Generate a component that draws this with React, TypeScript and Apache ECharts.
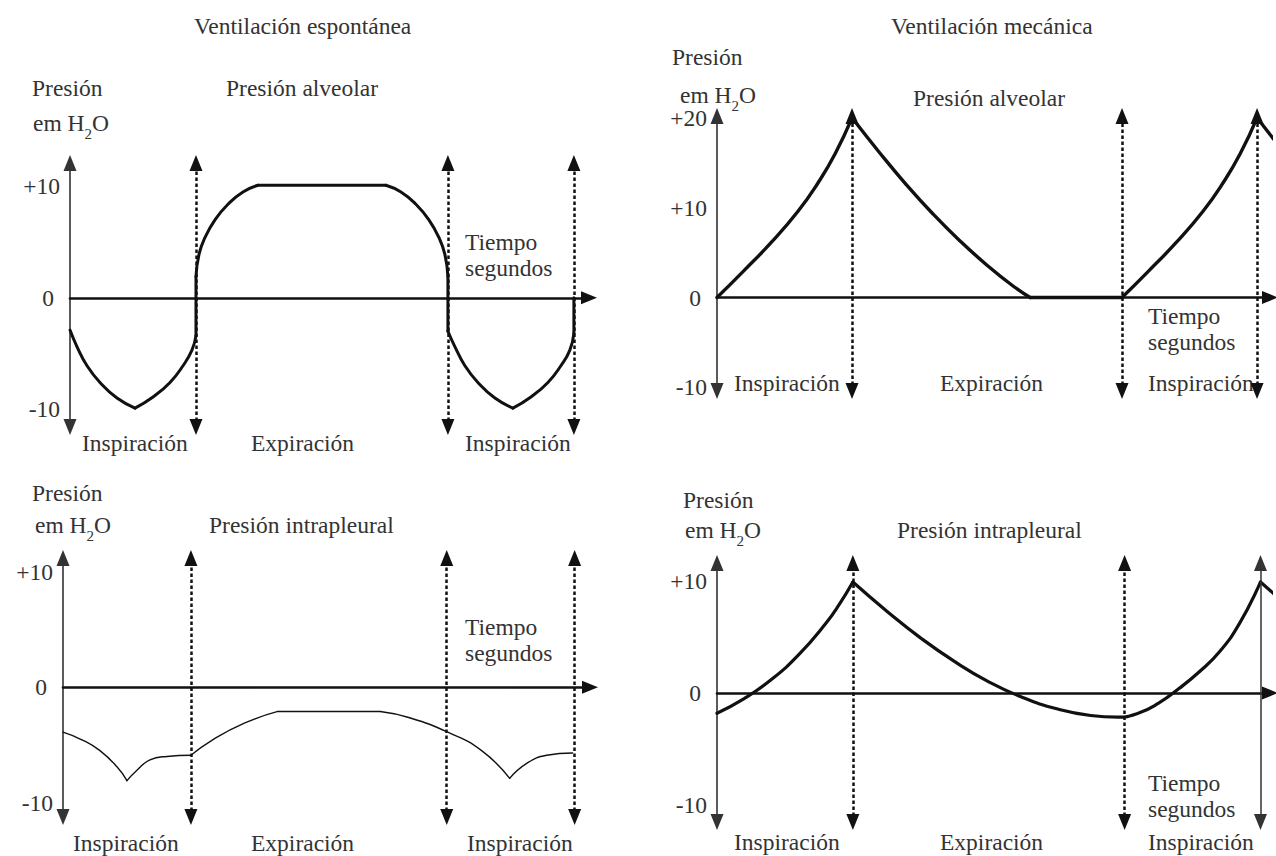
import React, { useEffect, useRef } from 'react';
import * as echarts from 'echarts';

type Pt = [number, number];

// Time axis: one unit = one inspiration phase (expiration lasts two units).
// Pressure axis: cm H2O.

// ---- Spontaneous ventilation, alveolar pressure ----
const spAlvBowl1Down: Pt[] = [[0, -2.9], [0.056, -4.4], [0.135, -6.1], [0.238, -7.6], [0.373, -9.0], [0.516, -9.9]];
const spAlvBowl1Up: Pt[] = [[0.516, -9.9], [0.659, -8.9], [0.794, -7.6], [0.897, -6.1], [0.968, -4.7], [1.0, -3.4]];
const spAlvJump1: Pt[] = [[1.0, -3.4], [1.0, 1.9]];
const spAlvRise: Pt[] = [[1.0, 1.9], [1.024, 3.9], [1.071, 5.4], [1.151, 7.0], [1.254, 8.4], [1.373, 9.5], [1.492, 10.1]];
const spAlvPlateau: Pt[] = [[1.492, 10.1], [2.508, 10.1]];
const spAlvFall: Pt[] = [[2.508, 10.1], [2.627, 9.5], [2.746, 8.4], [2.849, 7.0], [2.929, 5.4], [2.976, 3.9], [3.0, 1.9]];
const spAlvJump2: Pt[] = [[3.0, 1.9], [3.0, -3.0]];
const spAlvBowl2Down: Pt[] = [[3.0, -3.0], [3.056, -4.4], [3.135, -6.1], [3.238, -7.6], [3.373, -9.0], [3.516, -9.9]];
const spAlvBowl2Up: Pt[] = [[3.516, -9.9], [3.659, -8.9], [3.794, -7.6], [3.897, -6.1], [3.968, -4.7], [4.0, -3.2]];
const spAlvJump3: Pt[] = [[4.0, -3.2], [4.0, 0]];

// ---- Mechanical ventilation, alveolar pressure ----
const mvAlvRise1: Pt[] = [[0, 0], [0.2, 3.0], [0.4, 6.1], [0.6, 9.6], [0.75, 12.8], [0.875, 16.0], [1.0, 20.0]];
const mvAlvFall1: Pt[] = [[1.0, 20.0], [1.2, 16.2], [1.4, 12.6], [1.6, 9.3], [1.8, 6.3], [2.0, 3.6], [2.2, 1.2], [2.319, 0]];
const mvAlvRest: Pt[] = [[2.319, 0], [3.0, 0]];
const mvAlvRise2: Pt[] = [[3.0, 0], [3.2, 3.0], [3.4, 6.1], [3.6, 9.6], [3.75, 12.8], [3.875, 16.0], [4.0, 20.0]];
const mvAlvFall2: Pt[] = [[4.0, 20.0], [4.2, 16.2], [4.4, 12.6]];

// ---- Spontaneous ventilation, intrapleural pressure ----
const spPlDown1: Pt[] = [[0, -3.9], [0.156, -4.6], [0.289, -5.5], [0.422, -6.9], [0.5, -8.1]];
const spPlUp1: Pt[] = [[0.5, -8.1], [0.578, -7.2], [0.68, -6.3], [0.813, -6.0], [1.0, -5.9]];
const spPlRise: Pt[] = [[1.0, -5.9], [1.164, -4.6], [1.422, -3.1], [1.68, -2.1]];
const spPlPlateau: Pt[] = [[1.68, -2.1], [2.48, -2.1]];
const spPlFall: Pt[] = [[2.48, -2.1], [2.695, -2.6], [3.008, -3.9], [3.273, -5.5], [3.492, -7.9]];
const spPlUp2: Pt[] = [[3.492, -7.9], [3.625, -6.6], [3.781, -5.9], [3.984, -5.7]];

// ---- Mechanical ventilation, intrapleural pressure ----
const mvPlRise1: Pt[] = [[0, -1.8], [0.2, -0.5], [0.4, 1.2], [0.6, 3.4], [0.8, 6.2], [0.9, 7.9], [1.0, 9.9]];
const mvPlCycle: Pt[] = [[1.0, 9.9], [1.25, 7.3], [1.5, 4.9], [1.75, 2.8], [2.0, 1.0], [2.25, -0.4], [2.5, -1.4], [2.75, -2.0], [2.95, -2.15], [3.1, -1.8], [3.25, -0.9], [3.4, 0.4], [3.55, 1.9], [3.7, 3.7], [3.85, 6.3], [4.0, 9.9]];
const mvPlFall2: Pt[] = [[4.0, 9.9], [4.25, 7.3], [4.5, 4.9]];

// Axis ranges and tick values per panel
const xMax = [4.12, 4.096, 4.12, 4.07];
const yMin = [-11.6, -10.4, -11.25, -11.5];
const yMax = [12.1, 20.2, 11.2, 11.6];
const yTicksA = [-10, 0, 10];
const yTicksB = [-10, 0, 10, 20];
// Phase boundaries (dotted guides)
const phaseBounds = [1, 3, 4];

// Texts
const titles = ['Ventilación espontánea', 'Ventilación mecánica'];
const curveNames = ['Presión alveolar', 'Presión intrapleural'];
const phaseLabels = ['Inspiración', 'Expiración', 'Inspiración'];
const timeLabel = ['Tiempo', 'segundos'];
const pressureLabel = 'Presión';

const FONT = 'Liberation Serif';
const FS = 23.5;
const TEXT = '#333';
const INK = '#111';

const grids = [
  { left: 70, top: 163, width: 519, height: 264 },
  { left: 717, top: 116, width: 553, height: 275 },
  { left: 63, top: 558, width: 527, height: 259 },
  { left: 717, top: 563, width: 553, height: 259 },
];

function curve(i: number, pts: Pt[], width: number, smooth: boolean | number = true, clip = true) {
  return {
    type: 'line',
    xAxisIndex: i,
    yAxisIndex: i,
    data: pts,
    smooth,
    symbol: 'none',
    showSymbol: false,
    silent: true,
    clip,
    z: 3,
    lineStyle: { color: INK, width, cap: 'round', join: 'round' },
  };
}

function guides(i: number, dotted: number[], solid: number[] = []) {
  const lo = yMin[i];
  const hi = yMax[i];
  const items: any[] = [];
  dotted.forEach((t) => items.push([{ coord: [t, lo] }, { coord: [t, hi] }]));
  solid.forEach((t) =>
    items.push([
      { coord: [t, lo], lineStyle: { type: 'solid', width: 1.5, color: '#333' } },
      { coord: [t, hi] },
    ])
  );
  return {
    type: 'line',
    xAxisIndex: i,
    yAxisIndex: i,
    data: [],
    silent: true,
    z: 2,
    markLine: {
      silent: true,
      animation: false,
      symbol: ['triangle', 'triangle'],
      symbolSize: [13, 16],
      label: { show: false },
      emphasis: { disabled: true },
      lineStyle: { type: [3.5, 2.5], width: 2.5, color: INK },
      data: items,
    },
  };
}

function xAxis(i: number) {
  return {
    type: 'value',
    gridIndex: i,
    min: 0,
    max: xMax[i],
    axisLine: {
      show: true,
      onZero: true,
      symbol: ['none', 'triangle'],
      symbolSize: [13, 16],
      lineStyle: { color: INK, width: 2.6 },
    },
    axisTick: { show: false },
    axisLabel: { show: false },
    splitLine: { show: false },
  };
}

function yAxis(i: number, ticks: number[]) {
  return {
    type: 'value',
    gridIndex: i,
    min: yMin[i],
    max: yMax[i],
    axisLine: {
      show: true,
      onZero: true,
      symbol: ['triangle', 'triangle'],
      symbolSize: [13, 16],
      lineStyle: { color: '#333', width: 1.6 },
    },
    axisTick: { show: false },
    splitLine: { show: false },
    axisLabel: {
      show: true,
      customValues: ticks,
      margin: 10,
      fontFamily: FONT,
      fontSize: FS,
      color: TEXT,
      formatter: (v: number) => (v > 0 ? '+' + v : v === 0 ? '{z|0}' : String(v)),
      rich: { z: { fontFamily: FONT, fontSize: FS, color: TEXT, padding: [0, 6, 0, 0] } },
    },
  };
}

function label(text: string, x: number, y: number) {
  return {
    type: 'text',
    x,
    y,
    silent: true,
    style: {
      text,
      fontFamily: FONT,
      fontSize: FS,
      lineHeight: 24,
      fill: TEXT,
      verticalAlign: 'middle',
      textVerticalAlign: 'middle',
    },
  };
}

function unitLabel(x: number, y: number) {
  return {
    type: 'text',
    x,
    y,
    silent: true,
    style: {
      text: '{n|em H}{s|2}{n|O}',
      fill: TEXT,
      verticalAlign: 'middle',
      textVerticalAlign: 'middle',
      rich: {
        n: { fontFamily: FONT, fontSize: FS, fill: TEXT, lineHeight: 26 },
        s: { fontFamily: FONT, fontSize: 15, fill: TEXT, lineHeight: 26, verticalAlign: 'bottom', padding: [0, 0, -5, 0] },
      },
    },
  };
}

function panelTexts(
  p: { pres: Pt; unit: Pt; name: Pt; nameIdx: number; time: Pt; phases: number[]; phaseY: number }
) {
  return [
    label(pressureLabel, p.pres[0], p.pres[1]),
    unitLabel(p.unit[0], p.unit[1]),
    label(curveNames[p.nameIdx], p.name[0], p.name[1]),
    label(timeLabel[0], p.time[0], p.time[1]),
    label(timeLabel[1], p.time[0], p.time[1] + 26),
    ...phaseLabels.map((s, k) => label(s, p.phases[k], p.phaseY)),
  ];
}

export default function App() {
  const ref = useRef<HTMLDivElement>(null);

  useEffect(() => {
    document.body.style.margin = '0';
    if (!ref.current) return;
    const chart = echarts.init(ref.current, undefined, { renderer: 'svg' });

    const graphic = [
      label(titles[0], 194, 26),
      label(titles[1], 891, 26),
      ...panelTexts({ pres: [32, 88], unit: [33, 123], name: [226, 88], nameIdx: 0, time: [465, 242], phases: [82, 251, 465], phaseY: 443 }),
      ...panelTexts({ pres: [672, 57], unit: [680, 95], name: [913, 98], nameIdx: 0, time: [1148, 316], phases: [734, 940, 1148], phaseY: 383 }),
      ...panelTexts({ pres: [32, 493], unit: [35, 525], name: [209, 525], nameIdx: 1, time: [465, 627], phases: [73, 251, 467], phaseY: 843 }),
      ...panelTexts({ pres: [683, 500], unit: [685, 530], name: [897, 530], nameIdx: 1, time: [1148, 783], phases: [734, 940, 1148], phaseY: 842 }),
    ];

    chart.setOption({
      animation: false,
      backgroundColor: '#fff',
      grid: grids.map((g) => ({ ...g, containLabel: false })),
      xAxis: [0, 1, 2, 3].map((i) => xAxis(i)),
      yAxis: [yAxis(0, yTicksA), yAxis(1, yTicksB), yAxis(2, yTicksA), yAxis(3, yTicksA)],
      graphic,
      series: [
        guides(0, phaseBounds),
        curve(0, spAlvBowl1Down, 3),
        curve(0, spAlvBowl1Up, 3),
        curve(0, spAlvJump1, 3, false),
        curve(0, spAlvRise, 3),
        curve(0, spAlvPlateau, 3, false),
        curve(0, spAlvFall, 3),
        curve(0, spAlvJump2, 3, false),
        curve(0, spAlvBowl2Down, 3),
        curve(0, spAlvBowl2Up, 3),
        curve(0, spAlvJump3, 3, false),

        guides(1, phaseBounds),
        curve(1, mvAlvRise1, 3.4),
        curve(1, mvAlvFall1, 3.4),
        curve(1, mvAlvRest, 3.4, false),
        curve(1, mvAlvRise2, 3.4),
        curve(1, mvAlvFall2, 3.4, true, false),

        guides(2, phaseBounds),
        curve(2, spPlDown1, 1.4),
        curve(2, spPlUp1, 1.4),
        curve(2, spPlRise, 1.4),
        curve(2, spPlPlateau, 1.4, false),
        curve(2, spPlFall, 1.4),
        curve(2, spPlUp2, 1.4),

        guides(3, [1, 3], [4]),
        curve(3, mvPlRise1, 3.2),
        curve(3, mvPlCycle, 3.2),
        curve(3, mvPlFall2, 3.2, true, false),
      ],
    });

    return () => chart.dispose();
  }, []);

  return <div ref={ref} style={{ width: 1276, height: 856 }} />;
}
